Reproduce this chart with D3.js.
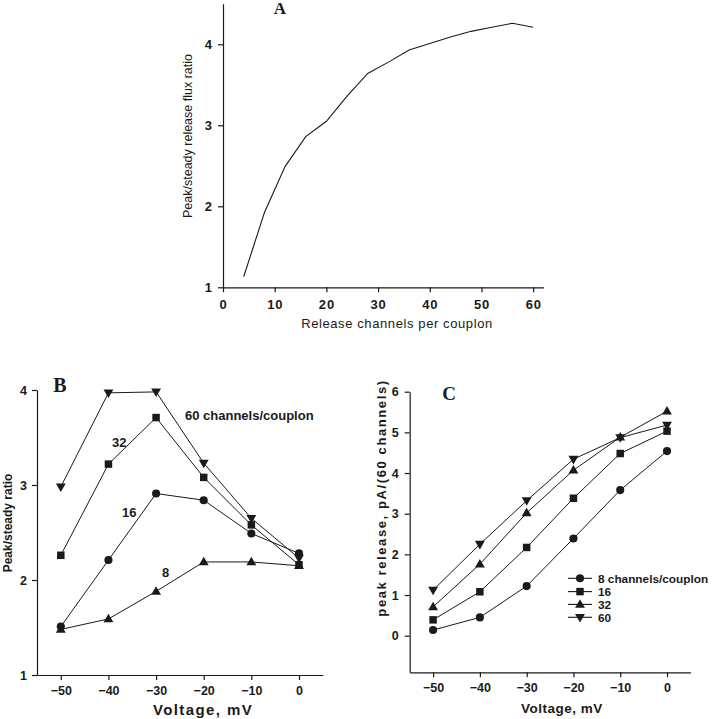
<!DOCTYPE html>
<html><head><meta charset="utf-8">
<script src="https://cdn.jsdelivr.net/npm/d3@7"></script>
<style>body{margin:0;background:#fff}svg{display:block}</style>
</head><body>
<svg id="chart" width="716" height="719"></svg>
<script>
// ---- Panel A data ----
const aChannels = [4, 8, 12, 16, 20, 24, 28, 32, 36, 40, 44, 48, 52, 56, 60];
const aRatio = [1.13, 1.92, 2.49, 2.86, 3.05, 3.36, 3.64, 3.78, 3.93, 4.01, 4.09, 4.16, 4.21, 4.26, 4.21];
const aXTicks = [0, 10, 20, 30, 40, 50, 60];
const aYTicks = [1, 2, 3, 4];

// ---- Panels B & C shared ----
const voltages = [-50, -40, -30, -20, -10, 0];
const vTicks = [-50, -40, -30, -20, -10, 0];

// ---- Panel B data (peak/steady ratio) ----
const b8 = [1.48, 1.59, 1.88, 2.19, 2.19, 2.15];
const b16 = [1.51, 2.21, 2.91, 2.84, 2.49, 2.28];
const b32 = [2.26, 3.22, 3.71, 3.08, 2.58, 2.16];
const b60 = [2.98, 3.97, 3.98, 3.23, 2.65, 2.23];
const bYTicks = [1, 2, 3, 4];

// ---- Panel C data (peak release) ----
const c8 = [0.14, 0.45, 1.22, 2.39, 3.58, 4.54];
const c16 = [0.39, 1.08, 2.17, 3.38, 4.48, 5.03];
const c32 = [0.71, 1.76, 3.02, 4.07, 4.88, 5.52];
const c60 = [1.12, 2.25, 3.32, 4.34, 4.87, 5.18];
const cYTicks = [0, 1, 2, 3, 4, 5, 6];
const legendLabels = ["8 channels/couplon", "16", "32", "60"];

const svg = d3.select("#chart");
const INK = "#1a1a1a";
const SANS = "Liberation Sans, Arial, sans-serif";
const SERIF = "Liberation Serif, Times New Roman, serif";

function styleAxis(g, fontSize, weight, spacing) {
  g.select(".domain").attr("stroke", INK).attr("stroke-width", 1.2);
  g.selectAll(".tick line").attr("stroke", INK).attr("stroke-width", 1.2);
  g.selectAll(".tick text").attr("fill", INK)
    .style("font-family", SANS).style("font-size", fontSize + "px")
    .style("font-weight", weight).style("letter-spacing", spacing + "px");
}

// symbols
const symCircle = d3.symbol().type(d3.symbolCircle).size(52);
const symSquare = d3.symbol().type(d3.symbolSquare).size(56);
const symTri = d3.symbol().type(d3.symbolTriangle).size(42);
function marker(g, kind, x, y) {
  if (kind === "circle") g.append("path").attr("d", symCircle()).attr("transform", `translate(${x},${y})`).attr("fill", INK);
  else if (kind === "square") g.append("path").attr("d", symSquare()).attr("transform", `translate(${x},${y})`).attr("fill", INK);
  else if (kind === "up") g.append("path").attr("d", symTri()).attr("transform", `translate(${x},${y+0.5})`).attr("fill", INK);
  else g.append("path").attr("d", symTri()).attr("transform", `translate(${x},${y-0.5}) rotate(180)`).attr("fill", INK);
}

// ================= Panel A =================
{
  const x = d3.scaleLinear().domain([0, 62]).range([223, 543.5]);
  const y = d3.scaleLinear().domain([1, 4.5]).range([287.3, 3.8]);
  const g = svg.append("g");
  const ya = g.append("g").attr("transform", `translate(${x(0)},0)`)
    .call(d3.axisLeft(y).tickValues(aYTicks).tickFormat(d3.format("d")).tickSize(5).tickPadding(6).tickSizeOuter(0));
  styleAxis(ya, 13, "bold", 0);
  const xa = g.append("g").attr("transform", `translate(0,${y(1)})`)
    .call(d3.axisBottom(x).tickValues(aXTicks).tickFormat(d3.format("d")).tickSize(5).tickPadding(7).tickSizeOuter(0));
  styleAxis(xa, 13, "bold", 0.8);
  g.append("path").datum(aChannels.map((c, i) => [c, aRatio[i]]))
    .attr("d", d3.line().x(d => x(d[0])).y(d => y(d[1])))
    .attr("fill", "none").attr("stroke", INK).attr("stroke-width", 1.1);
  g.append("text").attr("x", 280).attr("y", 14).attr("text-anchor", "middle")
    .style("font-family", SERIF).style("font-weight", "bold").style("font-size", "17px").attr("fill", INK).text("A");
  g.append("text").attr("transform", `translate(192,136) rotate(-90)`).attr("text-anchor", "middle")
    .style("font-family", SANS).style("font-size", "12.5px").attr("fill", INK).text("Peak/steady release flux ratio");
  g.append("text").attr("x", 397).attr("y", 328).attr("text-anchor", "middle")
    .style("font-family", SANS).style("font-size", "13px").style("letter-spacing", "0.6px").attr("fill", INK).text("Release channels per couplon");
}

// ================= Panel B =================
{
  const x = d3.scaleLinear().domain([-55, 5]).range([37, 322.8]);
  const y = d3.scaleLinear().domain([1, 4]).range([675, 390]);
  const g = svg.append("g");
  const ya = g.append("g").attr("transform", `translate(${x(-55)},0)`)
    .call(d3.axisLeft(y).tickValues(bYTicks).tickFormat(d3.format("d")).tickSize(5).tickPadding(5).tickSizeOuter(0));
  styleAxis(ya, 12.5, "bold", 0);
  const xa = g.append("g").attr("transform", `translate(0,${y(1)})`)
    .call(d3.axisBottom(x).tickValues(vTicks).tickFormat(d3.format("d")).tickSize(5).tickPadding(6).tickSizeOuter(0));
  styleAxis(xa, 12.5, "bold", 0);
  const series = [[b8, "up"], [b16, "circle"], [b32, "square"], [b60, "down"]];
  const line = d3.line().x(d => x(d[0])).y(d => y(d[1]));
  series.forEach(([vals, kind]) => {
    const pts = voltages.map((v, i) => [v, vals[i]]);
    g.append("path").datum(pts).attr("d", line).attr("fill", "none").attr("stroke", INK).attr("stroke-width", 1);
    pts.forEach(p => marker(g, kind, x(p[0]), y(p[1])));
  });
  const lab = (t, xx, yy) => g.append("text").attr("x", xx).attr("y", yy)
    .style("font-family", SANS).style("font-weight", "bold").style("font-size", "13px").attr("fill", INK).text(t);
  lab("60 channels/couplon", 185, 420);
  lab("32", 112, 447);
  lab("16", 122, 517);
  lab("8", 162, 577);
  g.append("text").attr("x", 60).attr("y", 392).attr("text-anchor", "middle")
    .style("font-family", SERIF).style("font-weight", "bold").style("font-size", "20px").attr("fill", INK).text("B");
  g.append("text").attr("transform", `translate(12,523) rotate(-90)`).attr("text-anchor", "middle")
    .style("font-family", SANS).style("font-weight", "bold").style("font-size", "12px").attr("fill", INK).text("Peak/steady ratio");
  g.append("text").attr("x", 203).attr("y", 715).attr("text-anchor", "middle")
    .style("font-family", SANS).style("font-weight", "bold").style("font-size", "15px").style("letter-spacing", "1.4px").attr("fill", INK).text("Voltage, mV");
}

// ================= Panel C =================
{
  const x = d3.scaleLinear().domain([-55, 5]).range([409.7, 690.4]);
  const y = d3.scaleLinear().domain([-0.9, 6]).range([672.3, 391.7]);
  const g = svg.append("g");
  const ya = g.append("g").attr("transform", `translate(${x(-55)},0)`)
    .call(d3.axisLeft(y).tickValues(cYTicks).tickFormat(d3.format("d")).tickSize(5).tickPadding(6).tickSizeOuter(0));
  styleAxis(ya, 12.5, "bold", 0);
  const xa = g.append("g").attr("transform", `translate(0,${y(-0.9)})`)
    .call(d3.axisBottom(x).tickValues(vTicks).tickFormat(d3.format("d")).tickSize(5).tickPadding(6).tickSizeOuter(0));
  styleAxis(xa, 12.5, "bold", 0);
  const series = [[c8, "circle"], [c16, "square"], [c32, "up"], [c60, "down"]];
  const line = d3.line().x(d => x(d[0])).y(d => y(d[1]));
  series.forEach(([vals, kind]) => {
    const pts = voltages.map((v, i) => [v, vals[i]]);
    g.append("path").datum(pts).attr("d", line).attr("fill", "none").attr("stroke", INK).attr("stroke-width", 1);
    pts.forEach(p => marker(g, kind, x(p[0]), y(p[1])));
  });
  // legend
  const ly = [578.3, 591.6, 604.4, 617.3];
  series.forEach(([vals, kind], i) => {
    g.append("line").attr("x1", 568).attr("x2", 592).attr("y1", ly[i]).attr("y2", ly[i]).attr("stroke", INK).attr("stroke-width", 1.1);
    marker(g, kind, 580, ly[i]);
    g.append("text").attr("x", 598).attr("y", ly[i] + 4.2)
      .style("font-family", SANS).style("font-weight", "bold").style("font-size", "11.8px")
      .attr("fill", INK).text(legendLabels[i]);
  });
  g.append("text").attr("x", 449).attr("y", 400).attr("text-anchor", "middle")
    .style("font-family", SERIF).style("font-weight", "bold").style("font-size", "19px").attr("fill", INK).text("C");
  g.append("text").attr("transform", `translate(386,498) rotate(-90)`).attr("text-anchor", "middle")
    .style("font-family", SANS).style("font-weight", "bold").style("font-size", "13px").style("letter-spacing", "1.6px").attr("fill", INK).text("peak release, pA/(60 channels)");
  g.append("text").attr("x", 562).attr("y", 713).attr("text-anchor", "middle")
    .style("font-family", SANS).style("font-weight", "bold").style("font-size", "13.5px").style("letter-spacing", "0.5px").attr("fill", INK).text("Voltage, mV");
}
</script>
</body></html>
